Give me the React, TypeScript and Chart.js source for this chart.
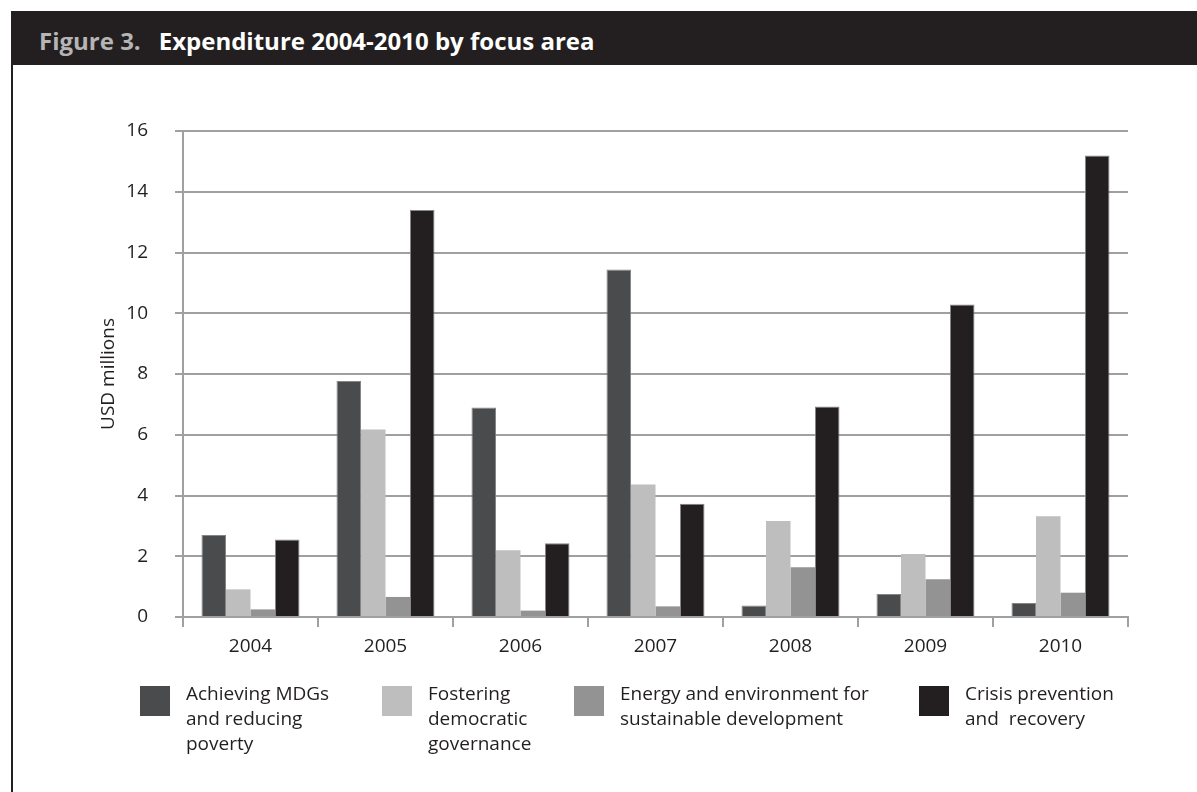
import React, { useEffect, useRef } from 'react';
import { Chart, registerables } from 'chart.js';

Chart.register(...registerables);

// ---- data ----
const categories = ['2004', '2005', '2006', '2007', '2008', '2009', '2010'];
const mdgs = [2.7, 7.77, 6.9, 11.44, 0.38, 0.76, 0.46];
const governance = [0.91, 6.17, 2.2, 4.36, 3.16, 2.07, 3.32];
const energy = [0.25, 0.66, 0.21, 0.35, 1.64, 1.24, 0.8];
const crisis = [2.55, 13.4, 2.43, 3.73, 6.93, 10.29, 15.19];
const seriesLabels = [
  ['Achieving MDGs', 'and reducing', 'poverty'],
  ['Fostering', 'democratic', 'governance'],
  ['Energy and environment for', 'sustainable development'],
  ['Crisis prevention', 'and  recovery'],
];
const yTickValues = [0, 2, 4, 6, 8, 10, 12, 14, 16];
const yAxisTitle = 'USD millions';
const figureNumber = 'Figure 3.';
const figureTitle = 'Expenditure 2004-2010 by focus area';

// ---- styles ----
const seriesValues = [mdgs, governance, energy, crisis];
const seriesColors = ['#4a4b4d', '#bebebe', '#939393', '#231f20'];
const FONT = '"Open Sans", sans-serif';
const TEXT = '#231f20';
const GRID = '#a0a0a0';
const legendLeft = [140, 382, 574, 919];

export default function App() {
  const ref = useRef<HTMLCanvasElement>(null);

  useEffect(() => {
    const chart = new Chart(ref.current!, {
      type: 'bar',
      data: {
        labels: categories,
        datasets: seriesValues.map((vals, i) => ({
          label: seriesLabels[i].join(' '),
          data: vals,
          backgroundColor: seriesColors[i],
          borderColor: i === 0 || i === 3 ? 'rgba(120,120,120,0.9)' : seriesColors[i],
          borderWidth: i === 0 || i === 3 ? 1 : 0,
          categoryPercentage: 0.726,
          barPercentage: 1,
        })),
      },
      options: {
        responsive: false,
        animation: false,
        layout: { padding: { left: 93, top: 131, right: 69, bottom: 115 } },
        plugins: { legend: { display: false }, tooltip: { enabled: false } },
        scales: {
          x: {
            afterFit: (s: any) => {
              s.height = 60;
            },
            grid: {
              display: true,
              drawOnChartArea: false,
              drawTicks: true,
              tickLength: 10,
              color: GRID,
              lineWidth: 2,
              offset: true,
            },
            border: { display: true, color: GRID, width: 2 },
            ticks: {
              color: TEXT,
              font: { family: FONT, size: 19 },
              padding: 8,
              maxRotation: 0,
            },
          },
          y: {
            min: 0,
            max: 16,
            afterFit: (s: any) => {
              s.width = 90;
            },
            afterBuildTicks: (s: any) => {
              s.ticks = yTickValues.map((v) => ({ value: v }));
            },
            grid: {
              color: GRID,
              lineWidth: 2,
              tickLength: 8,
              drawTicks: true,
            },
            border: { display: true, color: GRID, width: 2 },
            ticks: {
              color: TEXT,
              font: { family: FONT, size: 19 },
              padding: 27,
            },
            title: {
              display: true,
              text: yAxisTitle,
              color: TEXT,
              font: { family: FONT, size: 19 },
              padding: { top: 4, bottom: 4 },
            },
          },
        },
      },
    });
    return () => chart.destroy();
  }, []);

  return (
    <div
      style={{
        position: 'absolute',
        left: 0,
        top: 0,
        width: 1197,
        height: 792,
        background: '#ffffff',
        overflow: 'hidden',
        fontFamily: FONT,
      }}
    >
      <canvas
        ref={ref}
        width={1197}
        height={792}
        style={{ position: 'absolute', left: 0, top: 0, width: 1197, height: 792, display: 'block' }}
      />
      {/* title bar */}
      <div
        style={{
          position: 'absolute',
          left: 11,
          top: 11,
          width: 1186,
          height: 54,
          background: '#231f20',
        }}
      />
      <div
        style={{
          position: 'absolute',
          left: 39,
          top: 26,
          lineHeight: '30px',
          fontSize: 24,
          fontWeight: 700,
          whiteSpace: 'nowrap',
          fontFamily: FONT,
        }}
      >
        <span style={{ color: '#b5b5b5' }}>{figureNumber}</span>
        <span style={{ color: '#ffffff', marginLeft: 18 }}>{figureTitle}</span>
      </div>
      {/* left frame line */}
      <div
        style={{
          position: 'absolute',
          left: 11,
          top: 65,
          width: 2,
          height: 727,
          background: '#231f20',
        }}
      />
      {/* legend */}
      {seriesLabels.map((lines, i) => (
        <div key={i}>
          <div
            style={{
              position: 'absolute',
              left: legendLeft[i],
              top: 686,
              width: 30,
              height: 30,
              background: seriesColors[i],
            }}
          />
          <div
            style={{
              position: 'absolute',
              left: legendLeft[i] + 46,
              top: 681,
              fontSize: 19,
              lineHeight: '25px',
              color: TEXT,
              whiteSpace: 'pre',
              fontFamily: FONT,
            }}
          >
            {lines.map((l, j) => (
              <div key={j}>{l}</div>
            ))}
          </div>
        </div>
      ))}
    </div>
  );
}
